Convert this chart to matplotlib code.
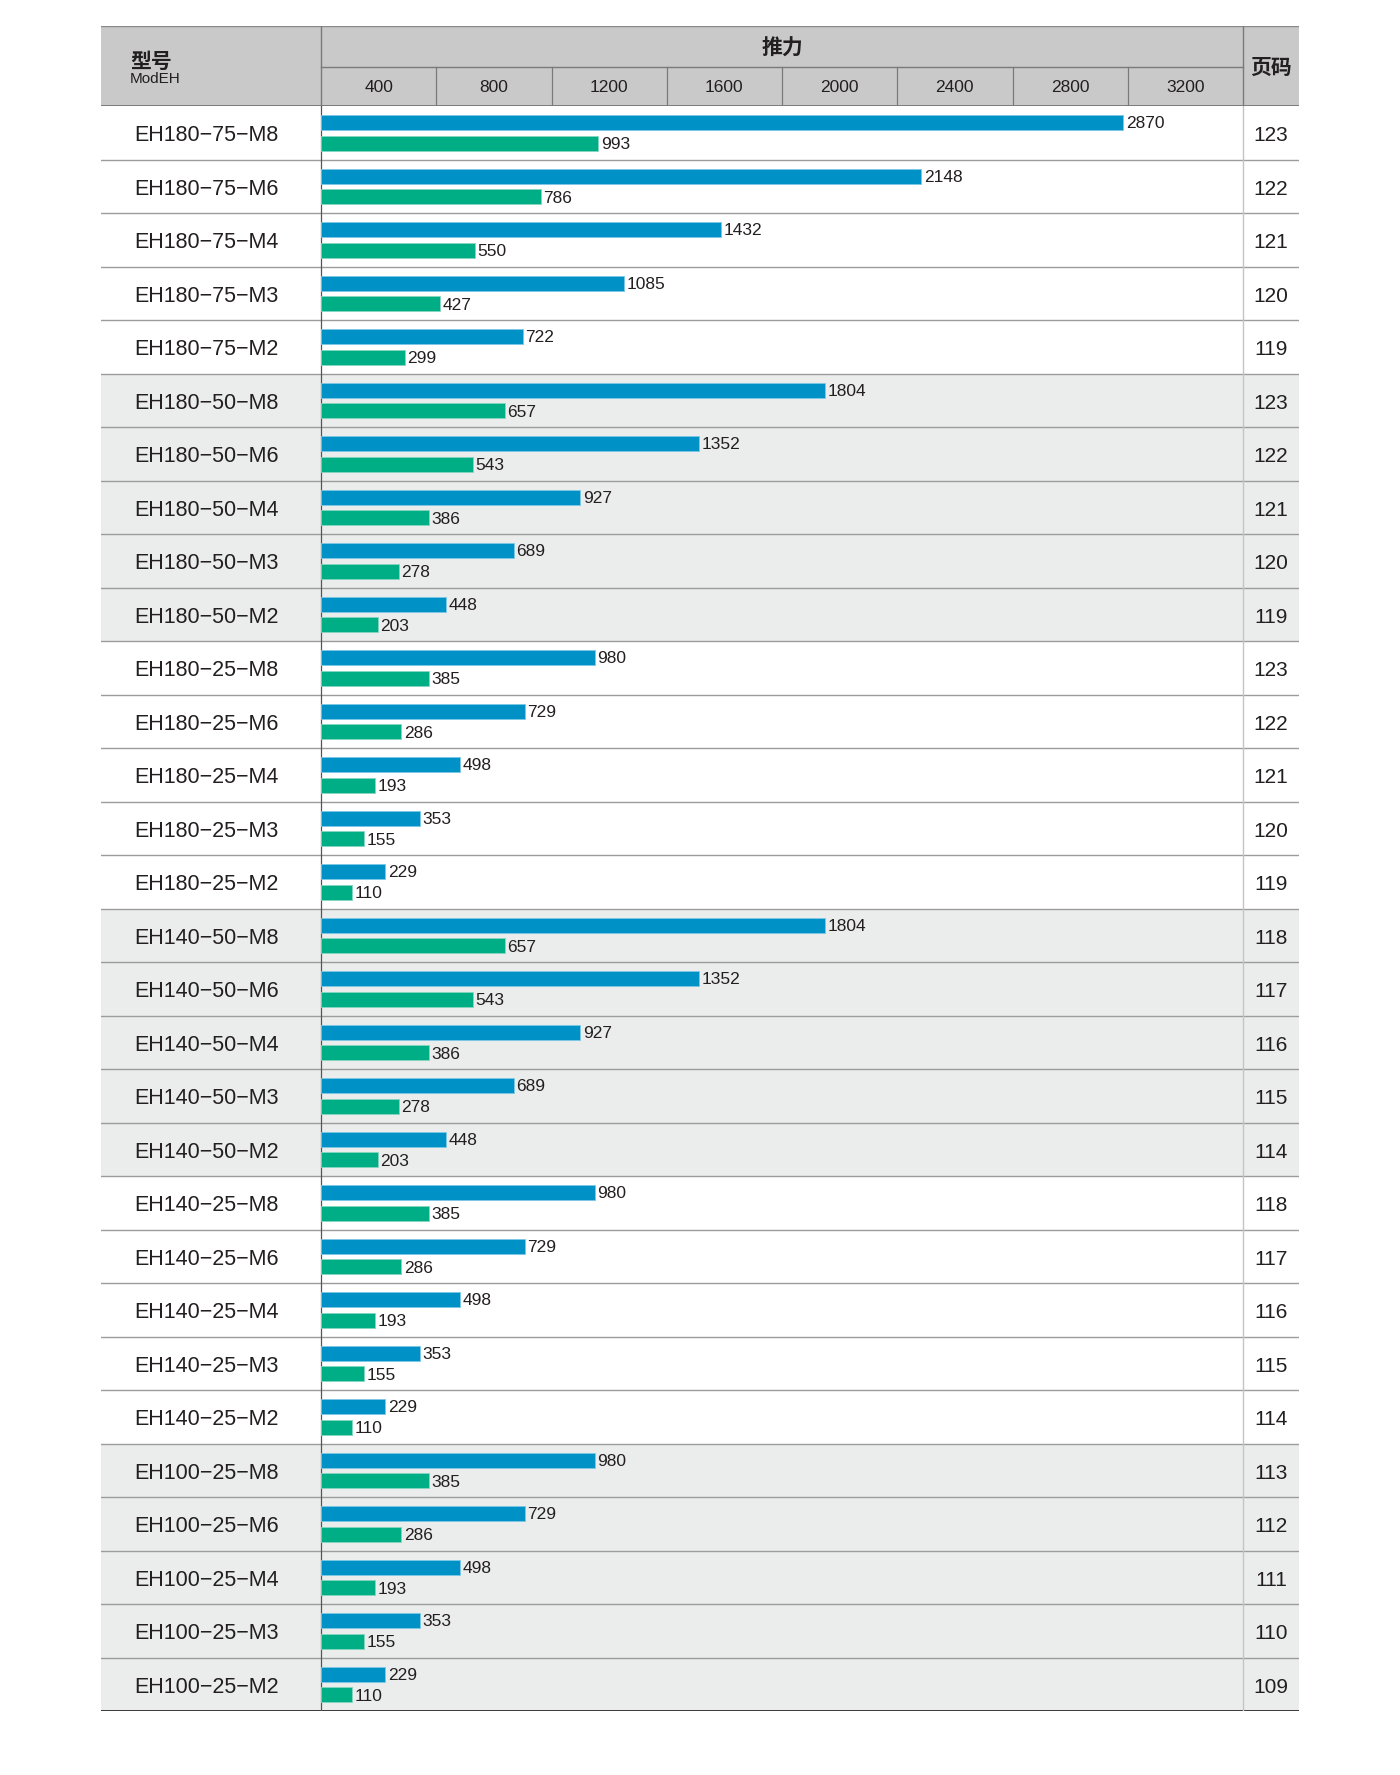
import matplotlib.pyplot as plt

models = ['EH180−75−M8', 'EH180−75−M6', 'EH180−75−M4', 'EH180−75−M3', 'EH180−75−M2',
          'EH180−50−M8', 'EH180−50−M6', 'EH180−50−M4', 'EH180−50−M3', 'EH180−50−M2',
          'EH180−25−M8', 'EH180−25−M6', 'EH180−25−M4', 'EH180−25−M3', 'EH180−25−M2',
          'EH140−50−M8', 'EH140−50−M6', 'EH140−50−M4', 'EH140−50−M3', 'EH140−50−M2',
          'EH140−25−M8', 'EH140−25−M6', 'EH140−25−M4', 'EH140−25−M3', 'EH140−25−M2',
          'EH100−25−M8', 'EH100−25−M6', 'EH100−25−M4', 'EH100−25−M3', 'EH100−25−M2']
thrust_max = [2870, 2148, 1432, 1085, 722,
              1804, 1352, 927, 689, 448,
              980, 729, 498, 353, 229,
              1804, 1352, 927, 689, 448,
              980, 729, 498, 353, 229,
              980, 729, 498, 353, 229]
thrust_rated = [993, 786, 550, 427, 299,
                657, 543, 386, 278, 203,
                385, 286, 193, 155, 110,
                657, 543, 386, 278, 203,
                385, 286, 193, 155, 110,
                385, 286, 193, 155, 110]
pages = [123, 122, 121, 120, 119,
         123, 122, 121, 120, 119,
         123, 122, 121, 120, 119,
         118, 117, 116, 115, 114,
         118, 117, 116, 115, 114,
         113, 112, 111, 110, 109]
tick_labels = ['400', '800', '1200', '1600', '2000', '2400', '2800', '3200']

BLUE = '#0091c6'
GREEN = '#00ae86'
HEAD = '#c9c9c9'
SHADE = '#ebecec'
INK = '#231f20'
LAT = ['Liberation Sans', 'DejaVu Sans']
CJK = ['Noto Sans CJK SC', 'DejaVu Sans']

W, H = 1400, 1775
fig = plt.figure(figsize=(14, 17.75), dpi=100)


def rect(x0, y0, x1, y1):
    return [x0 / W, 1 - y1 / H, (x1 - x0) / W, (y1 - y0) / H]


# table geometry (pixels)
L, R = 101, 1299
XPLOT, XPAGE = 321, 1243
TOP, HMID, HBOT = 26, 67, 106
BOT = 1711
n = len(models)

# ---- header ----
hd = fig.add_axes(rect(L, TOP, R, HBOT))
hd.set_xlim(L, R)
hd.set_ylim(HBOT, TOP)
hd.axis('off')
hd.add_patch(plt.Rectangle((L, TOP), R - L, HBOT - TOP, color=HEAD, lw=0))
hd.plot([L, R], [TOP, TOP], color='#8a8a8a', lw=1)
hd.plot([L, R], [HBOT, HBOT], color='#6e6e6e', lw=1.2)
hd.plot([XPLOT, XPAGE], [HMID, HMID], color='#7a7a7a', lw=1)
hd.plot([XPLOT, XPLOT], [TOP, HBOT], color='#7a7a7a', lw=1)
hd.plot([XPAGE, XPAGE], [TOP, HBOT], color='#7a7a7a', lw=1)
colw = (XPAGE - XPLOT) / len(tick_labels)
for k, lab in enumerate(tick_labels):
    if k > 0:
        hd.plot([XPLOT + k * colw] * 2, [HMID, HBOT], color='#7a7a7a', lw=0.9)
    hd.text(XPLOT + (k + 0.5) * colw, 87, lab, ha='center', va='center',
            fontsize=12.5, color=INK, family=LAT)
hd.text(130, 61, '型号', ha='left', va='center', fontsize=15,
        fontweight='bold', color=INK, family=CJK)
hd.text(130, 79, 'ModEH', ha='left', va='center', fontsize=11,
        color=INK, family=LAT)
hd.text((XPLOT + XPAGE) / 2, 48, '推力', ha='center', va='center', fontsize=15,
        fontweight='bold', color=INK, family=CJK)
hd.text((XPAGE + R) / 2, 67, '页码', ha='center', va='center', fontsize=15,
        fontweight='bold', color=INK, family=CJK)

# ---- body background, separators, model names and pages ----
bg = fig.add_axes(rect(L, HBOT, R, BOT))
bg.set_xlim(L, R)
bg.set_ylim(n, 0)
bg.axis('off')
shade = False
prev = None
for i, name in enumerate(models):
    series = name.rsplit('−', 1)[0]
    if prev is not None and series != prev:
        shade = not shade
    prev = series
    if shade:
        bg.axhspan(i, i + 1, color=SHADE, lw=0)
    if i > 0:
        bg.axhline(i, color='#9c9c9c', lw=1)
    bg.text(134, i + 0.56, name, ha='left', va='center', fontsize=15.5,
            color=INK, family=LAT)
    bg.text((XPAGE + R) / 2, i + 0.56, str(pages[i]), ha='center', va='center',
            fontsize=15, color=INK, family=LAT)
bg.axhline(n, color='#3a3a3a', lw=1.4)
bg.plot([XPLOT, XPLOT], [0, n], color='#555555', lw=0.9)
bg.plot([XPAGE, XPAGE], [0, n], color='#c4c4c4', lw=1)

# ---- bars ----
ax = fig.add_axes(rect(XPLOT, HBOT, XPAGE, BOT))
ax.patch.set_alpha(0)
ax.set_xlim(0, 3300)
ax.set_ylim(n, 0)
ax.axis('off')
rows = list(range(n))
ax.barh([r + 0.31 for r in rows], thrust_max, height=0.28, color=BLUE,
        edgecolor='#7cc8e6', lw=0.6, align='center')
ax.barh([r + 0.70 for r in rows], thrust_rated, height=0.28, color=GREEN,
        edgecolor='#86d6c0', lw=0.6, align='center')
for r in rows:
    ax.annotate(str(thrust_max[r]), (thrust_max[r], r + 0.31), xytext=(2, -1),
                textcoords='offset points', ha='left', va='center',
                fontsize=12.5, color=INK, family=LAT)
    ax.annotate(str(thrust_rated[r]), (thrust_rated[r], r + 0.70), xytext=(2, -1),
                textcoords='offset points', ha='left', va='center',
                fontsize=12.5, color=INK, family=LAT)

fig.savefig('out.png', dpi=100, facecolor='white')
